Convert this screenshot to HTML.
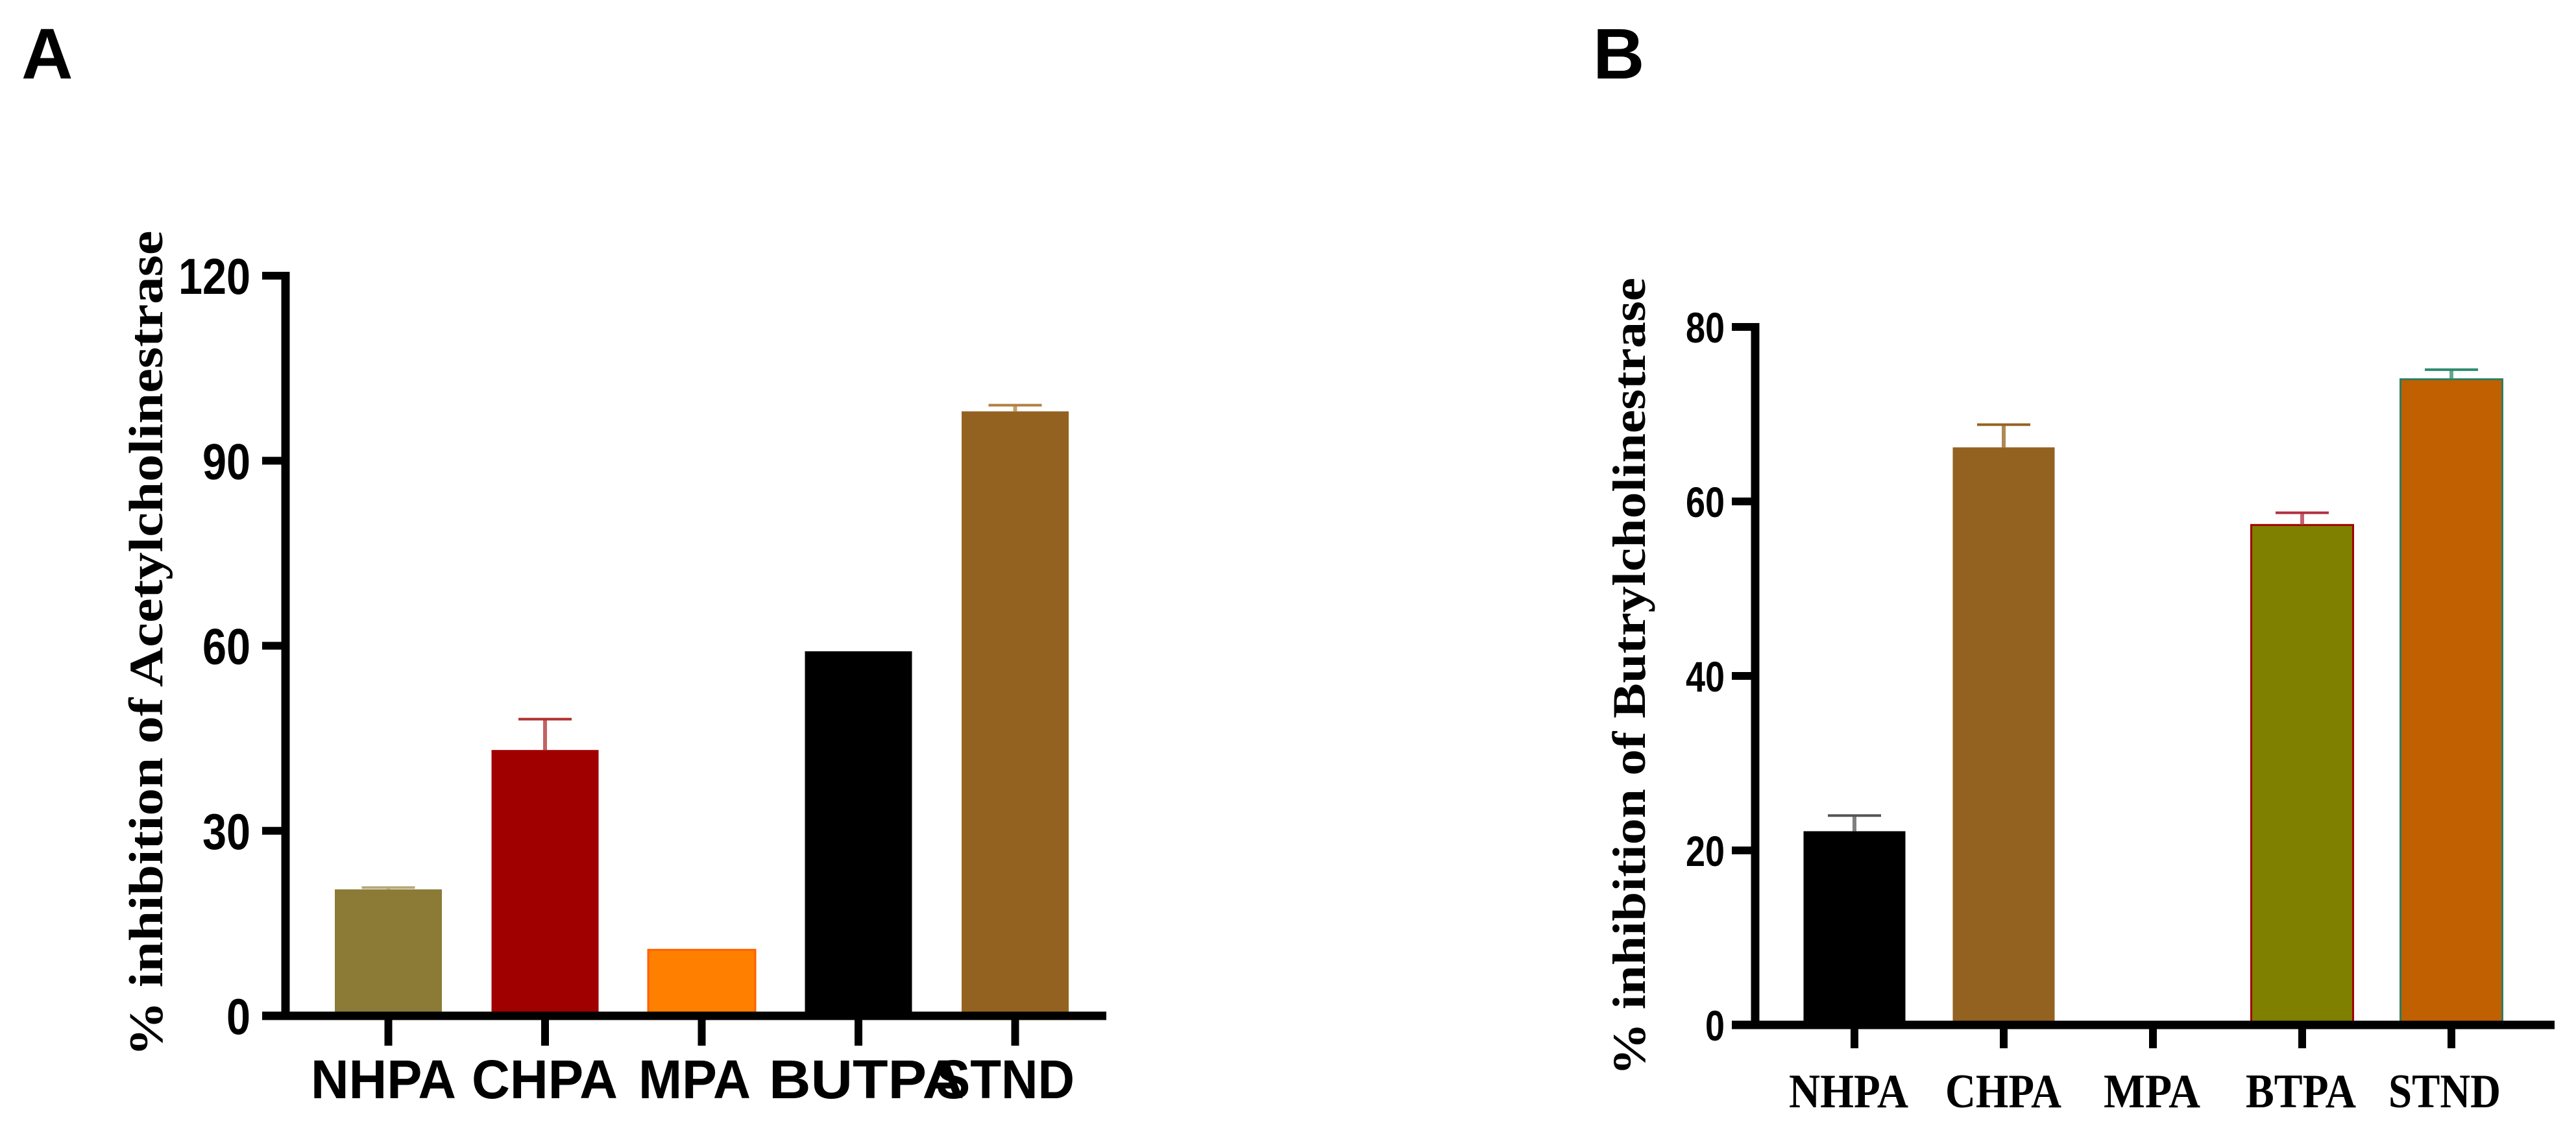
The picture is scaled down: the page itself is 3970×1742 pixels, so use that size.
<!DOCTYPE html>
<html><head><meta charset="utf-8"><style>
html,body{margin:0;padding:0;background:#fff;}
svg{display:block;}
.sans{font-family:"Liberation Sans",sans-serif;font-weight:bold;}
.serif{font-family:"Liberation Serif",serif;font-weight:bold;}
</style></head><body>
<svg id="fig" width="3970" height="1742" viewBox="0 0 3970 1742" xmlns="http://www.w3.org/2000/svg">
<text class="sans" x="33" y="121" font-size="110">A</text>
<text class="sans" x="2455" y="121" font-size="110">B</text>
<g id="chartA"></g>
<g id="chartB"></g>
</svg>
<script>
// Panel A data
const catsA = ["NHPA","CHPA","MPA","BUTPA","STND"];
const valsA = [20.5, 43.1, 10.7, 59.1, 98.0];
const errA = [0.3, 5.0, 0, 0, 1.0];
const ticksA = [0,30,60,90,120];
// Panel B data
const catsB = ["NHPA","CHPA","MPA","BTPA","STND"];
const valsB = [22.2, 66.2, 0, 57.3, 74.0];
const errB = [1.8, 2.6, 0, 1.4, 1.1];
const ticksB = [0,20,40,60,80];

const NS="http://www.w3.org/2000/svg";
function mk(parent,tag,attrs){const e=document.createElementNS(NS,tag);for(const k in attrs)e.setAttribute(k,attrs[k]);parent.appendChild(e);return e;}

function drawChart(cfg){
  const g=document.getElementById(cfg.id);
  const y=v=>cfg.y0-(v/cfg.ymax)*(cfg.y0-cfg.ytop);
  const x=i=>cfg.x0+i*cfg.pitch;
  cfg.cats.forEach((c,i)=>{
    const v=cfg.vals[i];
    if(v>0){
      const r=mk(g,'rect',{x:x(i)-cfg.bw/2,y:y(v),width:cfg.bw,height:cfg.y0-y(v),fill:cfg.fills[i],stroke:cfg.strokes[i],'stroke-width':cfg.strokes[i]==='none'?0:3});
      
      
    }
    if(cfg.errs[i]>0){
      const top=y(v+cfg.errs[i]);
      const l=mk(g,'line',{x1:x(i),x2:x(i),y1:y(v),y2:top,stroke:cfg.ecol[i],'stroke-width':6,opacity:0.75});
      
      
      const cp=mk(g,'line',{x1:x(i)-41,x2:x(i)+41,y1:top,y2:top,stroke:cfg.ecol[i],'stroke-width':4});
      
      
    }
    const t=mk(g,'line',{x1:x(i),x2:x(i),y1:cfg.y0,y2:cfg.y0+cfg.tickLen,stroke:'#000','stroke-width':12});
    
    
    const lb=mk(g,'text',{x:cfg.labX[i],y:cfg.labY,'font-size':cfg.labFs,class:cfg.labClass,textLength:cfg.labW[i],lengthAdjust:'spacingAndGlyphs'});
    lb.textContent=c;
    
    
  });
  const ya=mk(g,'line',{x1:cfg.ax,x2:cfg.ax,y1:cfg.ytop-6,y2:cfg.y0+6,stroke:'#000','stroke-width':13});
  
  
  const xa=mk(g,'line',{x1:cfg.ax-36,x2:cfg.xend,y1:cfg.y0,y2:cfg.y0,stroke:'#000','stroke-width':13});
  
  
  cfg.ticks.forEach(v=>{
    const tk=mk(g,'line',{x1:cfg.ax-36,x2:cfg.ax,y1:y(v),y2:y(v),stroke:'#000','stroke-width':12});
    
    
    const tl=mk(g,'text',{x:cfg.tickX,y:y(v)+cfg.tickFs*0.36,'font-size':cfg.tickFs,class:'sans','text-anchor':'end',textLength:String(v).length*cfg.digW,lengthAdjust:'spacingAndGlyphs'});
    tl.textContent=String(v);
    
    
  });
  const tt=mk(g,'text',{x:0,y:0,'font-size':cfg.titFs,class:'serif','text-anchor':'middle',textLength:cfg.titLen,lengthAdjust:'spacingAndGlyphs',transform:`translate(${cfg.titX},${cfg.titY}) rotate(-90)`});
  tt.textContent=cfg.title;
  
  
}

drawChart({id:'chartA',cats:catsA,vals:valsA,errs:errA,ticks:ticksA,ymax:120,y0:1566,ytop:425,
  x0:840-241.5,pitch:241.5,bw:165,ax:440,xend:1705,tickLen:46,
  fills:['#8B7B37','#A00000','#FF7F00','#000000','#946220'],
  strokes:['none','none','#FF6000','none','none'],
  ecol:['#B8A878','#B03030','#FF7F00','#000','#B08040'],
  labX:[479,727,984,1185,1443],labW:[224,225,173,301,213],labY:1693,labFs:84,labClass:'sans',
  tickX:386,tickFs:78,digW:37,
  title:'% inhibition of Acetylcholinestrase',titFs:74,titLen:1273,titX:250,titY:992});

drawChart({id:'chartB',cats:catsB,vals:valsB,errs:errB,ticks:ticksB,ymax:80,y0:1580,ytop:504,
  x0:2858,pitch:230,bw:157,ax:2705,xend:3937,tickLen:36,
  fills:['#000000','#946220','#ffffff','#7F7F00','#C06000'],
  strokes:['none','none','none','#A00000','#2E7D5E'],
  ecol:['#555555','#946220','#000','#B03040','#2E8B6A'],
  labX:[2757,2998,3242,3461,3681],labW:[184,179,149,170,173],labY:1707,labFs:74,labClass:'serif',
  tickX:2658,tickFs:66,digW:30,
  title:'% inhibition of Butrylcholinestrase',titFs:72,titLen:1230,titX:2535,titY:1043});
</script>
</body></html>
